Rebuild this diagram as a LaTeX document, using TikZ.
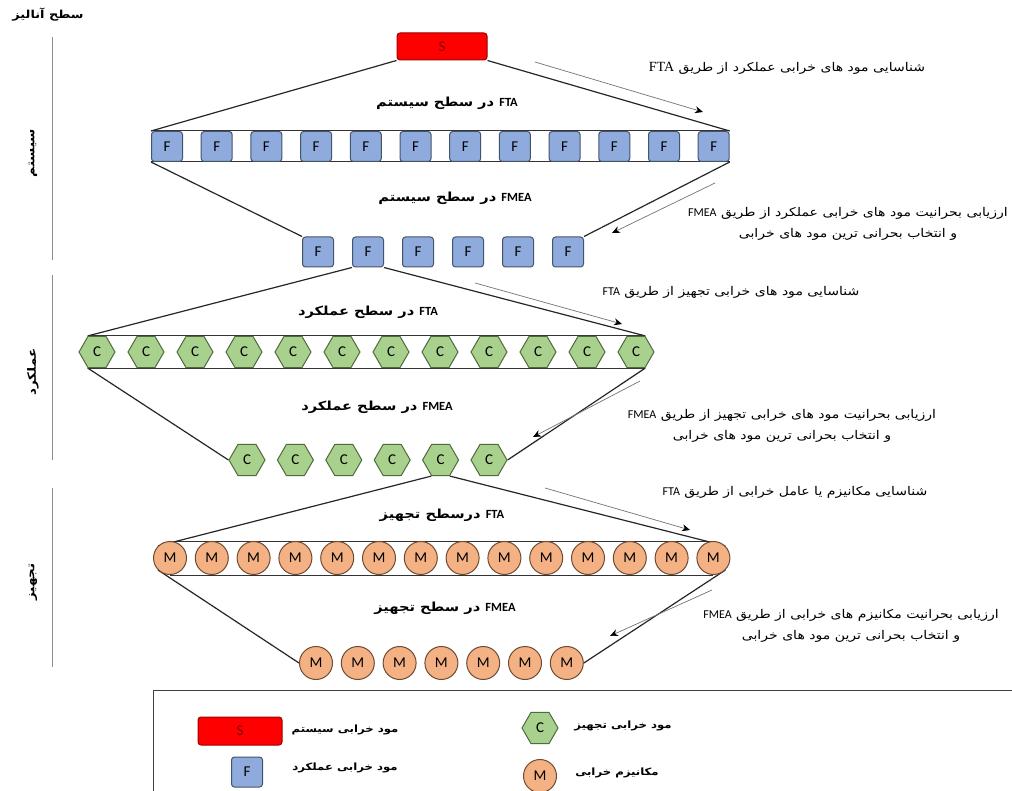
\documentclass[tikz,border=0pt]{standalone}
\usepackage{fontspec}
\usetikzlibrary{shapes.geometric,arrows.meta,backgrounds}
\TeXXeTstate=1
\newfontfamily\fa[Script=Arabic,FakeStretch=1.17]{DejaVu Sans}
\newfontfamily\carl{Carlito}
\newfontfamily\tnr{Liberation Serif}
\newcommand\rl[1]{{\fa\beginR #1\endR}}
\newcommand\lt[1]{\beginL{\carl #1}\endL{}}
\definecolor{fblue}{HTML}{8FAADC}
\definecolor{fborder}{HTML}{44546A}
\definecolor{cgreen}{HTML}{A9D18E}
\definecolor{cborder}{HTML}{4F6B3C}
\definecolor{morange}{HTML}{F4B183}
\definecolor{mborder}{HTML}{6E4A33}
\definecolor{sred}{HTML}{FF0000}
\definecolor{sborder}{HTML}{A00000}
\tikzset{
  fbox/.style={draw=fborder, fill=fblue, rounded corners=3pt, line width=1pt,
    minimum width=31pt, minimum height=30pt, inner sep=0pt,
    font=\carl\fontsize{15}{15}\selectfont},
  sbox/.style={draw=sborder, fill=sred, rounded corners=3pt, line width=1pt,
    minimum width=90pt, minimum height=27pt, inner sep=0pt, text=sborder!80!black,
    font=\carl\fontsize{15}{15}\selectfont},
  chex/.style={regular polygon, regular polygon sides=6, draw=cborder, fill=cgreen,
    line width=1pt, minimum size=36pt, inner sep=0pt,
    font=\carl\fontsize{15}{15}\selectfont},
  mcirc/.style={circle, draw=mborder, fill=morange, line width=1pt,
    minimum size=33pt, inner sep=0pt, font=\carl\fontsize{15}{15}\selectfont},
  fan/.style={draw=black!85, line width=1.2pt},
  band/.style={draw=black!80, line width=1pt},
  note/.style={draw=black!55, line width=0.7pt, -{Stealth[length=8pt,width=7pt,black]}},
  lab/.style={font=\bfseries\fontsize{12.5}{14}\selectfont, inner sep=0pt},
  leg/.style={font=\bfseries\fontsize{10}{12}\selectfont, inner sep=0pt},
  rtext/.style={font=\fontsize{12}{21}\selectfont, inner sep=0pt, align=center},
  side/.style={font=\bfseries\fontsize{11.5}{12}\selectfont, inner sep=0pt, rotate=90},
  vline/.style={draw=black!45, line width=1pt}
}
\begin{document}
\begin{tikzpicture}[x=1pt,y=-1pt]
\useasboundingbox (0,0) rectangle (1012,791);

% left analysis levels
\node[lab, font=\bfseries\fontsize{11}{12}\selectfont] (lev) at (48,15) {\rl{سطح آنالیز}};
\coordinate (v1a) at (52,37); \coordinate (v1b) at (52,260);
\coordinate (v2a) at (52,275); \coordinate (v2b) at (52,460);
\coordinate (v3a) at (52,488); \coordinate (v3b) at (52,667);
\draw[vline] (v1a) -- (v1b);
\draw[vline] (v2a) -- (v2b);
\draw[vline] (v3a) -- (v3b);
\node[side] (sv1) at (33,153) {\rl{سیستم}};
\node[side] (sv2) at (33,372) {\rl{عملکرد}};
\node[side] (sv3) at (33,582) {\rl{تجهیز}};

% nodes
\node[sbox] (s) at (442,46.5) {S};
\foreach \i in {0,...,11} \node[fbox] (fa\i) at ({167+49.7*\i},146.5) {F};
\foreach \i in {0,...,5} \node[fbox] (fb\i) at ({318+50*\i},252) {F};
\foreach \i in {0,...,11} \node[chex] (ca\i) at ({97+49*\i},352) {C};
\foreach \i in {0,...,5} \node[chex] (cb\i) at ({247+48.4*\i},460) {C};
\foreach \i in {0,...,13} \node[mcirc] (ma\i) at ({170+41.8*\i},558) {M};
\foreach \i in {0,...,6} \node[mcirc] (mb\i) at ({316+41.8*\i},663) {M};

\begin{pgfonlayer}{background}
  \fill[white] (0,0) rectangle (1012,791);
  % bands
  \draw[band] (fa0.north west) -- (fa11.north east);
  \draw[band] (fa0.south west) -- (fa11.south east);
  \draw[band] (ca0.corner 2) -- (ca11.corner 1);
  \draw[band] (ca0.corner 4) -- (ca11.corner 5);
  \draw[band] (ma0.north) -- (ma13.north);
  \draw[band] (ma0.south) -- (ma13.south);
  % fans
  \draw[fan] (s.south west) -- (fa0.north west);
  \draw[fan] (s.south east) -- (fa11.north east);
  \draw[fan] (fa0.south west) -- (fb0.north west);
  \draw[fan] (fa11.south east) -- (fb5.north east);
  \draw[fan] (fb1.south west) -- (ca0.corner 2);
  \draw[fan] (fb1.south east) -- (ca11.corner 1);
  \draw[fan] (ca0.corner 4) -- (cb0.corner 3);
  \draw[fan] (ca11.corner 5) -- (cb5.corner 6);
  \draw[fan] (cb4.corner 4) -- (ma0.north west);
  \draw[fan] (cb4.corner 5) -- (ma13.north east);
  \draw[fan] (ma0.south west) -- (mb0.west);
  \draw[fan] (ma13.south east) -- (mb6.east);
\end{pgfonlayer}

% level labels
\node[lab] (l1) at (447,103) {\rl{\lt{FTA} در سطح سیستم}};
\node[lab] (l2) at (455,198) {\rl{\lt{FMEA} در سطح سیستم}};
\node[lab] (l3) at (368,312) {\rl{\lt{FTA} در سطح عملکرد}};
\node[lab] (l4) at (377,407) {\rl{\lt{FMEA} در سطح عملکرد}};
\node[lab] (l5) at (442,515) {\rl{\lt{FTA} درسطح تجهیز}};
\node[lab] (l6) at (445,608) {\rl{\lt{FMEA} در سطح تجهیز}};

% explanatory arrows
\coordinate (a1s) at (535,62);  \coordinate (a1e) at (703,112);
\coordinate (a2s) at (715,183); \coordinate (a2e) at (612,233);
\coordinate (a3s) at (475,283); \coordinate (a3e) at (622,324);
\coordinate (a4s) at (640,381); \coordinate (a4e) at (533,437);
\coordinate (a5s) at (545,488); \coordinate (a5e) at (690,530);
\coordinate (a6s) at (712,590); \coordinate (a6e) at (610,636);
\draw[note] (a1s) -- (a1e);
\draw[note] (a2s) -- (a2e);
\draw[note] (a3s) -- (a3e);
\draw[note] (a4s) -- (a4e);
\draw[note] (a5s) -- (a5e);
\draw[note] (a6s) -- (a6e);

% explanatory texts
\node[rtext] (t1) at (787,68) {\rl{شناسایی مود های خرابی عملکرد از طریق \beginL{\tnr\fontsize{14}{14}\selectfont FTA}\endL{}}};
\node[rtext] (t2) at (848,223.5) {\rl{ارزیابی بحرانیت مود های خرابی عملکرد از طریق \lt{FMEA}}\\ \rl{و انتخاب بحرانی ترین مود های خرابی}};
\node[rtext] (t3) at (731,292) {\rl{شناسایی مود های خرابی تجهیز از طریق \lt{FTA}}};
\node[rtext] (t4) at (782,426) {\rl{ارزیابی بحرانیت مود های خرابی تجهیز از طریق \lt{FMEA}}\\ \rl{و انتخاب بحرانی ترین مود های خرابی}};
\node[rtext] (t5) at (795,492) {\rl{شناسایی مکانیزم یا عامل خرابی از طریق \lt{FTA}}};
\node[rtext] (t6) at (851,626) {\rl{ارزیابی بحرانیت مکانیزم های خرابی از طریق \lt{FMEA}}\\ \rl{و انتخاب بحرانی ترین مود های خرابی}};

% legend
\draw[draw=black!75, line width=1pt] (153,820) -- (153,690) -- (1030,690) -- (1030,820);
\node[sbox, minimum width=84pt, minimum height=28pt] (ls) at (240,731) {S};
\node[fbox] (lf) at (247,772) {F};
\node[chex] (lc) at (540,728) {C};
\node[mcirc] (lm) at (540,776) {M};
\node[leg] (lst) at (345,730) {\rl{مود خرابی سیستم}};
\node[leg] (lft) at (345,768) {\rl{مود خرابی عملکرد}};
\node[leg] (lct) at (623,726) {\rl{مود خرابی تجهیز}};
\node[leg] (lmt) at (617,773) {\rl{مکانیزم خرابی}};
\end{tikzpicture}
\end{document}
